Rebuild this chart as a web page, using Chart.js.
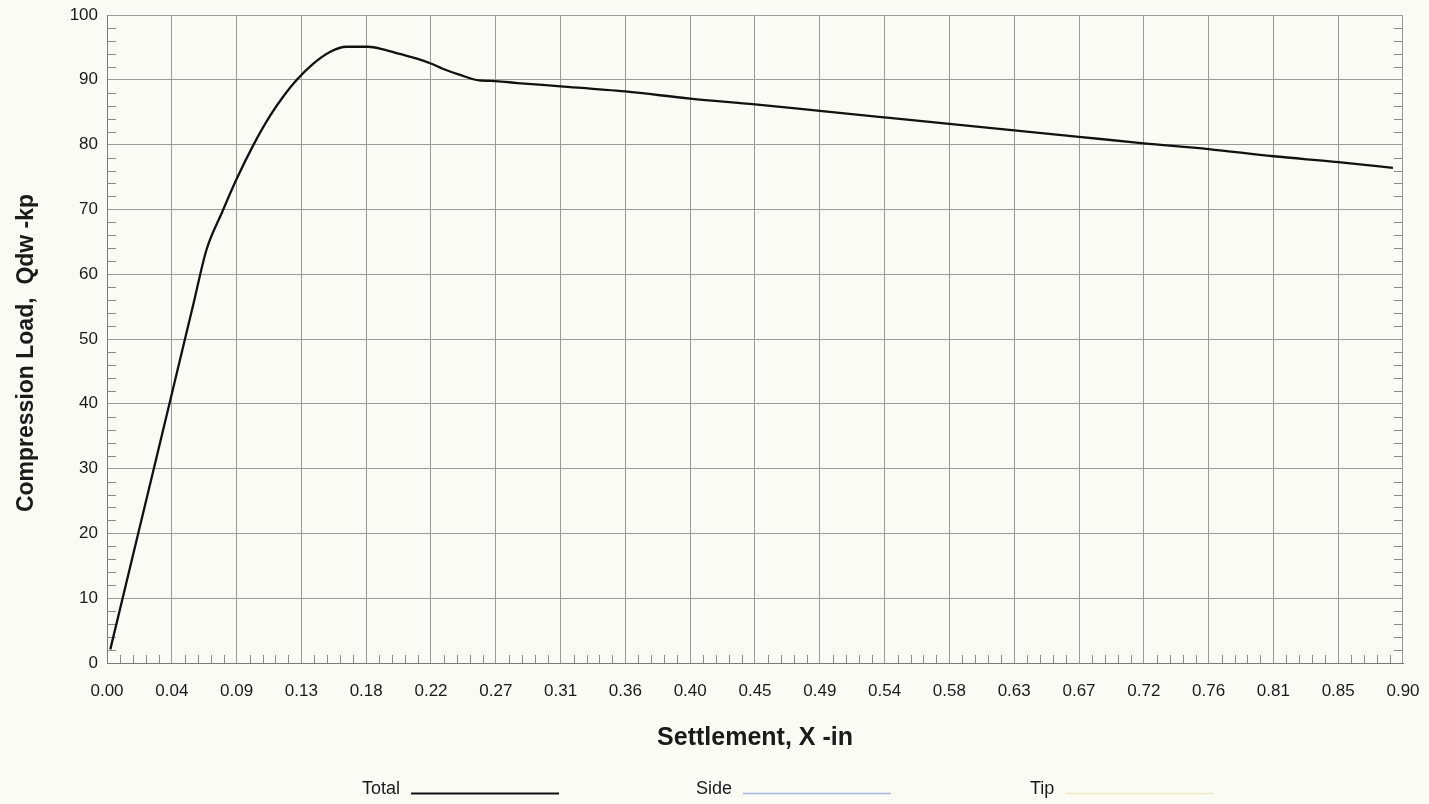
<!DOCTYPE html>
<html>
<head>
<meta charset="utf-8">
<script src="https://cdn.jsdelivr.net/npm/chart.js@4.4.1/dist/chart.umd.min.js"></script>
<style>
html, body { margin: 0; padding: 0; background: #fbfbf6; }
#wrap { width: 1429px; height: 804px; }
</style>
</head>
<body>
<div id="wrap"><canvas id="myChart" width="1429" height="804"></canvas></div>
<script>
// settlement (in) and load (kp)
var settlement = [0.0023, 0.035, 0.060, 0.069, 0.080, 0.0896, 0.1018, 0.1134, 0.1237, 0.1318,
                  0.1433, 0.1548, 0.1664, 0.1813, 0.1917, 0.2032, 0.2147, 0.2263, 0.2332, 0.2447,
                  0.2585, 0.27, 0.285, 0.315, 0.36, 0.405, 0.45, 0.495, 0.54, 0.585,
                  0.63, 0.675, 0.72, 0.765, 0.81, 0.855, 0.893];
var totalLoad  = [2.1, 32.3, 55.4, 63.7, 69.6, 74.5, 80.0, 84.5, 87.8, 90.0,
                  92.5, 94.3, 95.1, 95.1, 94.7, 94.0, 93.3, 92.4, 91.7, 90.8,
                  89.9, 89.8, 89.5, 89.0, 88.2, 87.1, 86.2, 85.2, 84.2, 83.2,
                  82.2, 81.2, 80.2, 79.3, 78.2, 77.3, 76.4];
var sideLoad = [];
var tipLoad = [];

var seriesNames = ["Total", "Side", "Tip"];
var seriesColors = ["#111111", "#a9b7e2", "#ebe7c4"];

var xTickLabels = ["0.00", "0.04", "0.09", "0.13", "0.18", "0.22", "0.27", "0.31", "0.36", "0.40", "0.45",
                   "0.49", "0.54", "0.58", "0.63", "0.67", "0.72", "0.76", "0.81", "0.85", "0.90"];
var xTickStep = 0.045;
var xMinorPerMajor = 5;
var yMin = 0, yMax = 100, yTickStep = 10, yMinorStep = 2;
var yTitle = 'Compression Load,  Qdw -kp';

function toPoints(xs, ys) {
  return ys.map(function (y, i) { return { x: xs[i], y: y }; });
}

var fontFamily = '"Liberation Sans", Arial, sans-serif';
var tickFont = { family: fontFamily, size: 17 };
var titleFont = { family: fontFamily, size: 25, weight: 'bold' };

var paperPlugin = {
  id: 'paper',
  beforeDraw: function (chart) {
    var ctx = chart.ctx;
    ctx.save();
    ctx.fillStyle = '#fbfbf6';
    ctx.fillRect(0, 0, chart.width, chart.height);
    ctx.restore();
  }
};

// short minor ticks inside the frame: bottom edge, left and right edges
var minorTicksPlugin = {
  id: 'minorTicks',
  beforeDatasetsDraw: function (chart) {
    var ctx = chart.ctx, a = chart.chartArea;
    var xs = chart.scales.x, ys = chart.scales.y;
    ctx.save();
    ctx.strokeStyle = '#8a8a8a';
    ctx.lineWidth = 1;
    ctx.beginPath();
    for (var i = 0; i < xTickLabels.length - 1; i++) {
      for (var k = 1; k < xMinorPerMajor; k++) {
        var px = Math.round(xs.getPixelForValue((i + k / xMinorPerMajor) * xTickStep)) + 0.5;
        ctx.moveTo(px, a.bottom);
        ctx.lineTo(px, a.bottom - 8);
      }
    }
    for (var v = yMin + yMinorStep; v < yMax; v += yMinorStep) {
      if (v % yTickStep === 0) continue;
      var py = Math.round(ys.getPixelForValue(v)) + 0.5;
      ctx.moveTo(a.left, py); ctx.lineTo(a.left + 9, py);
      ctx.moveTo(a.right - 9, py); ctx.lineTo(a.right, py);
    }
    ctx.stroke();
    ctx.restore();
  }
};

// y title sits a little below the middle of the plot in the original
var yTitlePlugin = {
  id: 'yTitle',
  afterDraw: function (chart) {
    var ctx = chart.ctx, a = chart.chartArea;
    ctx.save();
    ctx.translate(27, (a.top + a.bottom) / 2 + 14);
    ctx.rotate(-Math.PI / 2);
    ctx.font = 'bold 23px ' + fontFamily;
    ctx.fillStyle = '#1a1a1a';
    ctx.textAlign = 'center';
    ctx.textBaseline = 'middle';
    ctx.fillText(yTitle, 0, 0);
    ctx.restore();
  }
};

// legend under the chart: label first, then a sample line
var bottomLegend = {
  id: 'bottomLegend',
  afterDraw: function (chart) {
    var ctx = chart.ctx;
    ctx.save();
    ctx.font = '18px ' + fontFamily;
    ctx.textBaseline = 'alphabetic';
    chart.data.datasets.forEach(function (ds, i) {
      var x0 = 362 + i * 334;
      ctx.fillStyle = '#1a1a1a';
      ctx.fillText(ds.label, x0, 794);
      var w = ctx.measureText(ds.label).width;
      ctx.strokeStyle = ds.borderColor;
      ctx.lineWidth = i === 0 ? 2 : 1.3;
      ctx.beginPath();
      ctx.moveTo(x0 + w + 11, 793.5);
      ctx.lineTo(x0 + w + 11 + 148, 793.5);
      ctx.stroke();
    });
    ctx.restore();
  }
};

var myChart = new Chart(document.getElementById("myChart"), {
  type: 'scatter',
  data: {
    datasets: [
      { label: seriesNames[0], data: toPoints(settlement, totalLoad), showLine: true,
        borderColor: seriesColors[0], borderWidth: 2.3, pointRadius: 0, cubicInterpolationMode: 'monotone' },
      { label: seriesNames[1], data: toPoints(settlement, sideLoad), showLine: true,
        borderColor: seriesColors[1], borderWidth: 1, pointRadius: 0 },
      { label: seriesNames[2], data: toPoints(settlement, tipLoad), showLine: true,
        borderColor: seriesColors[2], borderWidth: 1, pointRadius: 0 }
    ]
  },
  options: {
    responsive: false,
    animation: false,
    layout: { padding: { left: 0, right: 26, top: 15, bottom: 45 } },
    plugins: {
      legend: { display: false },
      tooltip: { enabled: false }
    },
    scales: {
      x: {
        type: 'linear',
        min: 0,
        max: 0.9,
        afterBuildTicks: function (s) {
          s.ticks = xTickLabels.map(function (t, i) { return { value: i * xTickStep }; });
        },
        afterFit: function (s) { s.height = 96; s.paddingLeft = 0; s.paddingRight = 0; },
        ticks: {
          autoSkip: false, maxRotation: 0, padding: 18, color: '#1a1a1a', font: tickFont,
          callback: function (v, i) { return xTickLabels[i]; }
        },
        grid: { color: '#9a9a9a', lineWidth: 1, drawTicks: false },
        border: { color: '#7a7a7a' },
        title: { display: true, text: 'Settlement, X -in', color: '#1a1a1a', font: titleFont,
                 padding: { top: 0, bottom: 6 } }
      },
      y: {
        min: yMin,
        max: yMax,
        afterFit: function (s) { s.width = 107; s.paddingTop = 0; s.paddingBottom = 0; },
        ticks: { stepSize: yTickStep, padding: 9, color: '#1a1a1a', font: tickFont },
        grid: { color: '#9a9a9a', lineWidth: 1, drawTicks: false },
        border: { color: '#7a7a7a' }
      }
    }
  },
  plugins: [paperPlugin, minorTicksPlugin, yTitlePlugin, bottomLegend]
});
</script>
</body>
</html>
